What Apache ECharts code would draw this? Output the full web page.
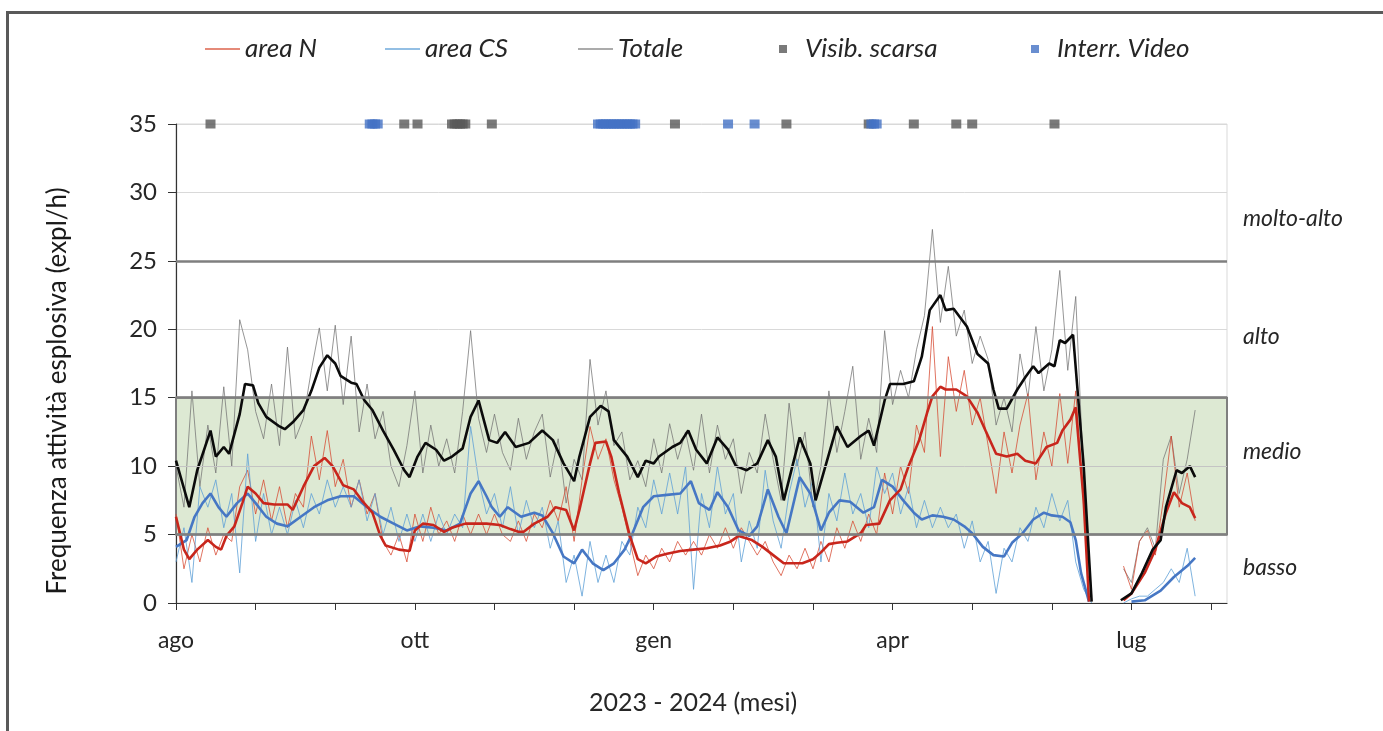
<!DOCTYPE html>
<html><head><meta charset="utf-8">
<script src="https://cdn.jsdelivr.net/npm/echarts@6/dist/echarts.min.js"></script>
<style>html,body{margin:0;padding:0;background:#fff}#c{width:1383px;height:731px}</style>
</head><body><div id="c"></div>
<script>
// ---- DATA ----
// x values are days since 1 Aug 2023
const tickDays = [0,30,60,90,120,150,180,210,240,270,300,330,360,390];
const labelDays = [0,90,180,270,360];
const monthLabels = ['ago','ott','gen','apr','lug'];

const thinDays = [0,3,6,9,12,15,18,21,24,27,
  30,33,36,39,42,45,48,51,54,57,
  60,63,66,69,72,75,78,81,84,87,
  90,93,96,99,102,105,108,111,114,117,
  120,123,126,129,132,135,138,141,144,147,
  150,153,156,159,162,165,168,171,174,177,
  180,183,186,189,192,195,198,201,204,207,
  210,213,216,219,222,225,228,231,234,237,
  240,243,246,249,252,255,258,261,264,267,
  270,273,276,279,282,285,288,291,294,297,
  300,303,306,309,312,315,318,321,324,327,
  330,333,336,339,342,345,348,351,354,357,
  360,363,366,369,372,375,378,381,384];

const totThin = [10.0,7.0,15.5,8.5,13.0,9.5,15.8,10.0,20.7,18.5,
  14.0,12.0,16.0,11.5,18.7,12.0,13.5,17.0,20.1,15.5,
  20.3,14.5,19.5,12.5,16.0,12.0,14.0,10.0,8.5,11.5,
  15.5,9.5,13.0,10.0,12.0,9.5,14.0,19.9,13.5,11.0,
  13.8,11.0,9.7,13.5,10.5,12.5,13.8,9.2,12.0,7.3,
  10.5,9.0,17.8,13.0,15.5,11.5,12.5,9.0,10.4,8.5,
  12.0,9.5,13.1,10.5,12.5,9.7,13.8,9.5,13.0,10.5,
  12.0,8.0,11.0,9.5,13.8,10.5,7.5,14.6,10.0,12.5,
  7.0,10.0,15.5,11.0,14.0,17.3,10.5,13.5,11.0,19.9,
  14.5,17.0,15.0,18.5,21.0,27.3,20.5,24.6,19.5,21.4,
  17.5,19.5,17.8,13.0,15.0,12.5,18.2,15.0,20.2,15.5,
  18.5,24.3,17.0,22.4,9.0,0.5,null,null,null,2.5,
  1.5,4.5,5.5,4.0,10.5,12.2,8.0,10.5,14.1];

const nThin = [6.5,2.5,5.0,3.0,5.5,3.5,5.0,4.5,8.5,9.7,
  6.5,9.0,6.0,8.5,5.5,8.0,7.0,12.2,9.0,12.6,
  8.5,10.5,7.0,9.0,6.5,8.0,4.5,3.5,5.0,3.0,
  6.5,4.5,7.0,5.0,6.0,4.5,6.5,5.0,6.5,5.0,
  6.5,5.0,4.5,6.0,4.5,6.5,5.5,7.5,6.0,8.5,
  4.5,9.0,12.9,10.5,12.0,9.0,7.0,4.5,2.0,3.5,
  2.5,4.0,3.0,4.5,3.5,4.5,3.5,5.0,4.0,5.5,
  4.0,5.5,4.5,3.5,4.5,3.0,2.0,3.5,2.5,4.0,
  2.5,4.5,3.0,5.5,4.0,6.0,4.5,6.5,5.0,9.5,
  6.5,10.0,8.0,13.0,11.0,20.2,10.7,18.0,14.0,17.0,
  13.0,15.0,11.5,8.0,12.5,9.5,13.0,15.3,9.0,12.5,
  10.0,15.3,10.2,15.5,7.0,0.3,null,null,null,2.7,
  1.0,4.5,5.3,3.5,7.5,12.2,7.0,9.5,6.0];

const csThin = [3.0,5.5,1.5,8.5,7.0,9.0,5.5,8.0,2.2,10.9,
  4.5,8.0,5.0,7.0,5.0,7.5,5.5,8.0,6.5,9.0,
  7.0,8.5,7.0,9.0,6.0,8.0,5.0,7.0,4.5,6.5,
  4.5,6.5,4.5,6.5,5.0,6.5,5.5,12.9,9.0,6.5,
  8.0,5.5,8.5,5.0,7.5,5.5,7.0,4.0,6.0,1.5,
  3.5,0.5,4.5,1.5,3.5,1.5,4.5,3.5,7.0,5.5,
  9.0,6.5,9.5,6.5,10.0,1.0,8.0,5.5,10.0,6.5,
  8.0,3.0,6.0,4.0,9.7,6.0,4.0,8.0,10.5,7.0,
  9.0,3.0,8.0,6.0,9.5,6.5,8.0,5.5,10.0,8.0,
  9.5,6.5,8.5,5.5,7.5,5.5,7.0,5.5,6.5,4.0,
  6.0,3.0,4.5,0.7,4.0,3.0,5.5,4.5,7.0,5.5,
  8.0,6.0,7.5,3.0,1.0,0.0,null,null,null,0.0,
  0.3,0.5,0.5,1.0,1.5,2.5,1.5,4.0,0.5];

// smoothed (moving average) lines: [day, value]
const totSmooth = [[0,10.4],[5,7.0],[8,9.7],[13,12.6],[15,10.7],[18,11.4],[20,10.9],[24,13.8],[26,16.0],[29,15.9],[31,14.6],[34,13.6],[39,12.9],[41,12.7],[44,13.2],[48,14.1],[51,15.5],[54,17.2],[57,18.1],[60,17.5],[62,16.6],[66,16.1],[68,16.0],[71,14.8],[74,14.1],[78,12.6],[82,11.2],[86,9.7],[88,9.2],[91,10.7],[94,11.7],[98,11.2],[101,10.4],[104,10.7],[108,11.3],[111,13.6],[114,14.8],[118,11.9],[121,11.7],[124,12.5],[128,11.4],[133,11.7],[138,12.6],[142,11.9],[146,10.2],[150,8.9],[152,10.7],[156,13.6],[160,14.4],[163,14.0],[165,11.9],[170,10.7],[174,9.2],[177,10.4],[180,10.2],[182,10.7],[187,11.4],[190,11.7],[193,12.6],[196,11.2],[200,10.2],[204,12.1],[208,11.2],[211,10.0],[215,9.7],[219,10.2],[223,11.9],[226,10.7],[229,7.5],[235,12.1],[239,10.2],[241,7.5],[245,10.2],[249,12.9],[253,11.4],[258,12.2],[261,12.6],[263,11.5],[267,14.8],[269,16.0],[274,16.0],[278,16.2],[281,18.0],[284,21.4],[288,22.5],[290,21.4],[293,21.5],[298,20.2],[302,18.2],[306,17.5],[308,15.6],[310,14.2],[313,14.2],[317,15.6],[320,16.5],[323,17.3],[325,16.8],[329,17.5],[331,17.3],[333,19.2],[335,19.0],[338,19.6],[342,10.0],[345,0.1],[350,null],[356,0.2],[360,0.7],[364,2.2],[368,3.9],[371,4.6],[373,7.0],[377,9.7],[379,9.5],[382,10.0],[384,9.2]];

const nSmooth = [[0,6.3],[3,3.9],[5,3.2],[8,3.9],[12,4.6],[15,4.1],[17,3.9],[19,4.9],[22,5.6],[25,7.3],[27,8.5],[30,8.0],[33,7.3],[37,7.2],[42,7.2],[44,6.8],[48,8.5],[52,10.0],[56,10.6],[59,10.0],[63,8.6],[67,8.3],[70,7.5],[74,6.6],[77,4.9],[79,4.2],[84,3.9],[88,3.8],[90,5.3],[93,5.8],[97,5.7],[101,5.2],[104,5.5],[109,5.8],[117,5.8],[122,5.7],[126,5.4],[129,5.2],[131,5.2],[135,5.8],[140,6.3],[143,7.0],[147,6.8],[150,5.3],[152,6.8],[156,10.2],[158,11.7],[162,11.8],[164,10.7],[167,8.0],[171,4.9],[174,3.2],[177,2.9],[181,3.4],[185,3.6],[190,3.8],[195,3.9],[200,4.0],[205,4.2],[209,4.5],[212,4.9],[217,4.6],[221,4.1],[225,3.5],[229,2.9],[236,2.9],[240,3.2],[243,3.7],[246,4.3],[249,4.4],[253,4.5],[258,5.1],[260,5.7],[265,5.8],[269,7.5],[273,8.3],[276,10.0],[280,11.9],[283,13.9],[285,15.1],[288,15.8],[290,15.6],[294,15.6],[298,15.1],[302,13.9],[305,12.6],[309,10.9],[313,10.7],[317,10.9],[320,10.4],[324,10.2],[328,11.4],[332,11.7],[334,12.6],[337,13.4],[339,14.3],[342,7.5],[344,0.1],[350,null],[357,0.2],[360,0.7],[365,2.2],[369,3.9],[373,6.6],[376,8.1],[379,7.3],[382,7.0],[384,6.2]];

const csSmooth = [[0,4.1],[4,4.6],[7,6.3],[10,7.3],[13,8.0],[16,7.0],[19,6.3],[23,7.3],[27,8.0],[30,7.3],[34,6.3],[38,5.8],[42,5.6],[47,6.3],[52,7.0],[57,7.5],[62,7.8],[67,7.8],[72,7.0],[77,6.3],[82,5.8],[87,5.3],[92,5.6],[97,5.5],[102,5.3],[107,5.8],[111,8.0],[114,8.9],[117,7.8],[119,7.0],[122,6.3],[125,7.0],[130,6.3],[135,6.6],[138,6.4],[142,5.1],[146,3.4],[150,2.9],[153,3.9],[157,2.9],[161,2.4],[165,2.9],[169,3.9],[172,5.1],[176,7.0],[180,7.8],[185,7.9],[190,8.0],[194,8.9],[197,7.3],[201,6.8],[204,8.1],[208,7.0],[212,5.3],[216,4.9],[219,5.6],[223,8.3],[227,6.3],[230,5.1],[235,9.2],[239,8.0],[243,5.3],[246,6.6],[250,7.5],[254,7.4],[259,6.6],[263,7.0],[266,9.0],[270,8.5],[274,7.5],[278,6.6],[281,6.1],[285,6.4],[289,6.3],[293,6.1],[297,5.6],[300,5.1],[304,4.1],[308,3.5],[312,3.4],[315,4.4],[319,5.1],[323,6.1],[327,6.6],[330,6.4],[334,6.3],[337,5.9],[339,4.6],[341,2.2],[344,0.1],[350,null],[360,0.1],[365,0.2],[371,0.9],[376,1.9],[381,2.7],[384,3.3]];

const visibDays = [13,86,91,104,105,106,107,108,109,119,188,230,261,278,294,300,331];
const videoDays = [73,74,75,76,159,160,161,162,163,164,165,166,167,168,169,170,171,172,173,208,218,262,263,264];
const markerLevel = 35;

const levelThresholds = [5,15,25];
const levelNames = ['molto-alto','alto','medio','basso'];
const levelLabelAt = [28.1,19.5,11.1,2.6];

const yTitle = 'Frequenza attività esplosiva (expl/h)';
const xTitle = '2023 - 2024 (mesi)';

// ---- CHART ----
const FONT = 'Lato';
const TXT = '#262626';
const zip = (xs, ys) => xs.map((x, i) => [x, ys[i]]);
const chart = echarts.init(document.getElementById('c'));

const lineIcon = 'path://M0,0H35V1.6H0Z';
const sqIcon = 'path://M0,0H8V8H0Z';
function leg(name, left, icon, w, h) {
  return {
    data: [{name: name, icon: icon}], left: left, top: 36, itemWidth: w, itemHeight: h,
    selectedMode: false, padding: 0,
    textStyle: {fontFamily: FONT, fontStyle: 'italic', fontSize: 26, color: TXT}
  };
}

chart.setOption({
  animation: false,
  backgroundColor: '#fff',
  grid: {left: 176, right: 156, top: 124, bottom: 128, show: true, borderColor: '#d9d9d9', borderWidth: 1},
  legend: [
    leg('area N', 205, lineIcon, 35, 14),
    leg('area CS', 385, lineIcon, 35, 14),
    leg('Totale', 578, lineIcon, 35, 14),
    leg('Visib. scarsa', 779, sqIcon, 34, 8),
    leg('Interr. Video', 1031, sqIcon, 34, 8)
  ],
  xAxis: {
    type: 'value', min: 0, max: 396,
    axisLine: {show: true, onZero: false, lineStyle: {color: '#333', width: 1.2}},
    axisTick: {show: true, length: 7, customValues: tickDays, lineStyle: {color: '#333'}},
    axisLabel: {customValues: labelDays, margin: 26, fontFamily: FONT, fontSize: 23, color: TXT,
      formatter: v => { const i = labelDays.indexOf(v); return i >= 0 ? monthLabels[i] : ''; }},
    splitLine: {show: false}
  },
  yAxis: {
    type: 'value', min: 0, max: 35, interval: 5,
    axisLine: {show: true, lineStyle: {color: '#333', width: 1.2}},
    axisTick: {show: true, length: 8, lineStyle: {color: '#333'}},
    axisLabel: {margin: 19, fontFamily: FONT, fontSize: 24, color: TXT},
    splitLine: {show: true, lineStyle: {color: '#d9d9d9', width: 1}}
  },
  series: [
    {
      name: 'livelli', type: 'line', data: [], z: 1, silent: true,
      markArea: {silent: true, itemStyle: {color: '#dde9d3', borderColor: '#7f7f7f', borderWidth: 2},
        data: [[{yAxis: levelThresholds[0]}, {yAxis: levelThresholds[1]}]]},
      markLine: {silent: true, symbol: ['none', 'none'], label: {show: false},
        data: [
          {yAxis: 10, lineStyle: {color: '#c4c4c4', width: 1, type: 'solid'}},
          ...levelThresholds.map(v => ({yAxis: v, lineStyle: {color: '#7f7f7f', width: 2.5, type: 'solid'}}))
        ]}
    },
    {name: 'Totale', type: 'line', data: zip(thinDays, totThin), z: 2, symbol: 'none',
      itemStyle: {color: 'rgba(115,115,115,0.8)'}, lineStyle: {color: 'rgba(115,115,115,0.75)', width: 1}},
    {name: 'area N', type: 'line', data: zip(thinDays, nThin), z: 2, symbol: 'none',
      itemStyle: {color: 'rgba(214,70,45,0.85)'}, lineStyle: {color: 'rgba(214,70,45,0.75)', width: 1}},
    {name: 'area CS', type: 'line', data: zip(thinDays, csThin), z: 2, symbol: 'none',
      itemStyle: {color: 'rgba(95,160,215,0.9)'}, lineStyle: {color: 'rgba(95,160,215,0.8)', width: 1}},
    {name: 'area CS media', type: 'line', data: csSmooth, z: 3, symbol: 'none',
      lineStyle: {color: '#4677c4', width: 2.6}},
    {name: 'area N media', type: 'line', data: nSmooth, z: 3, symbol: 'none',
      lineStyle: {color: '#c8261c', width: 2.6}},
    {name: 'Totale media', type: 'line', data: totSmooth, z: 3, symbol: 'none',
      lineStyle: {color: '#0b0b0b', width: 2.6}},
    {name: 'Visib. scarsa', type: 'scatter', z: 4, clip: false, symbol: 'rect', symbolSize: [10, 9],
      itemStyle: {color: '#595959'}, data: visibDays.map(d => [d, markerLevel])},
    {name: 'Interr. Video', type: 'scatter', z: 4, clip: false, symbol: 'rect', symbolSize: [10, 9],
      itemStyle: {color: '#4472c4'}, data: videoDays.map(d => [d, markerLevel])}
  ]
});

const graphics = [
  {type: 'rect', silent: true, shape: {x: 7.5, y: 12.5, width: 1420, height: 780},
    style: {fill: 'none', stroke: '#595959', lineWidth: 3}},
  {type: 'text', silent: true, x: 58, y: 391, rotation: Math.PI / 2,
    style: {text: yTitle, font: '26px Lato', fill: '#1a1a1a', align: 'center', verticalAlign: 'middle'}},
  {type: 'text', silent: true, x: 693, y: 703,
    style: {text: xTitle, font: '25px Lato', fill: TXT, align: 'center', verticalAlign: 'middle'}}
];
levelNames.forEach((t, i) => {
  graphics.push({type: 'text', silent: true, x: 1243, y: chart.convertToPixel({yAxisIndex: 0}, levelLabelAt[i]),
    style: {text: t, font: 'italic 23px Lato', fill: TXT, verticalAlign: 'middle'}});
});
chart.setOption({graphic: graphics});
</script></body></html>
